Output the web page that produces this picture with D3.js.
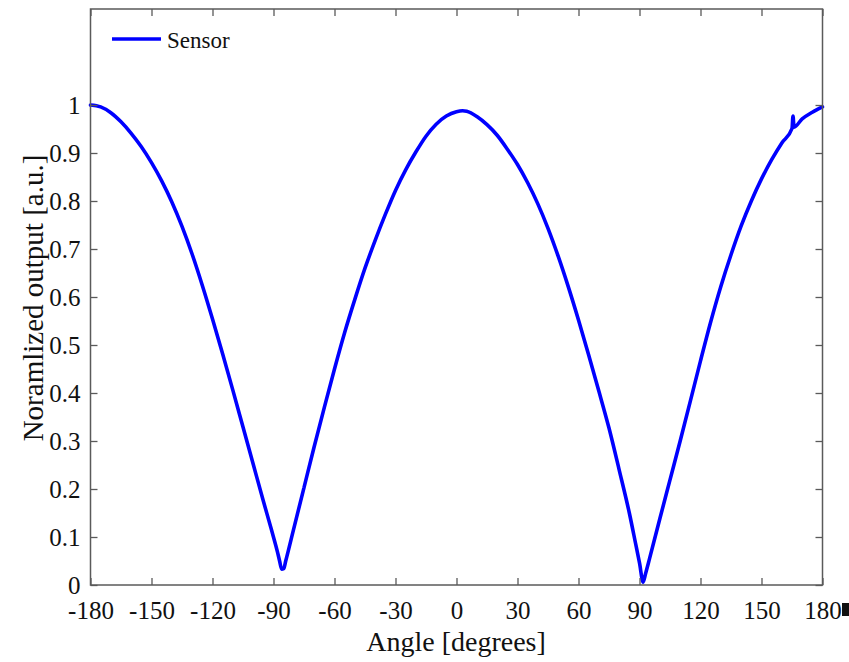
<!DOCTYPE html>
<html>
<head>
<meta charset="utf-8">
<script src="https://cdn.jsdelivr.net/npm/d3@7"></script>
<style>
  html, body { margin: 0; padding: 0; background: #fff; }
  svg { display: block; }
  text { font-family: "Liberation Serif", "Times New Roman", serif; fill: #111; }
</style>
</head>
<body>
<svg id="chart" width="849" height="662"></svg>
<script>
// Angular response of the sensor (degrees vs normalized output)
const angles = [
  -180, -175, -170, -165, -160, -155, -150, -145, -140, -135, -130, -125, -120,
  -115, -110, -105, -100, -95, -91, -88, -87, -86, -85, -84, -80, -75, -70, -65,
  -60, -55, -50, -45, -40, -35, -30, -25, -20, -15, -10, -5, 0, 3, 5, 10, 15, 20,
  25, 30, 35, 40, 45, 50, 55, 60, 65, 70, 75, 80, 85, 88, 90, 91.8, 93, 95, 100,
  105, 110, 115, 120, 125, 130, 135, 140, 145, 150, 155, 160, 165, 165.5, 166,
  170, 175, 180
];
const output = [
  1.000, 0.996, 0.984, 0.965, 0.941, 0.913, 0.880, 0.842, 0.798, 0.747, 0.689, 0.624, 0.554,
  0.481, 0.406, 0.329, 0.252, 0.175, 0.115, 0.068, 0.050, 0.033, 0.034, 0.050, 0.118, 0.203, 0.288, 0.370,
  0.450, 0.526, 0.595, 0.660, 0.718, 0.772, 0.822, 0.865, 0.902, 0.935, 0.960, 0.977, 0.986, 0.988, 0.987, 0.976, 0.959, 0.937,
  0.908, 0.876, 0.838, 0.794, 0.743, 0.685, 0.621, 0.552, 0.479, 0.404, 0.327, 0.240, 0.150, 0.088, 0.046, 0.006, 0.024, 0.056, 0.138,
  0.219, 0.300, 0.383, 0.467, 0.548, 0.622, 0.688, 0.748, 0.800, 0.846, 0.886, 0.921, 0.951, 0.977, 0.954,
  0.971, 0.985, 0.996
];
const xTicks = [-180, -150, -120, -90, -60, -30, 0, 30, 60, 90, 120, 150, 180];
const yTicks = [0, 0.1, 0.2, 0.3, 0.4, 0.5, 0.6, 0.7, 0.8, 0.9, 1];
const yTickLabels = ["0", "0.1", "0.2", "0.3", "0.4", "0.5", "0.6", "0.7", "0.8", "0.9", "1"];
const seriesName = "Sensor";

const svg = d3.select("#chart");
const plot = { left: 90.5, right: 822.5, top: 9, bottom: 585 };
const axisColor = "#5a5a5a";

const x = d3.scaleLinear().domain([-180, 180]).range([plot.left, plot.right]);
const y = d3.scaleLinear().domain([0, 1.2]).range([plot.bottom, plot.top]);

const data = angles.map((a, i) => ({ a, v: output[i] }));

// Curve
svg.append("path")
  .datum(data)
  .attr("fill", "none")
  .attr("stroke", "#0000ff")
  .attr("stroke-width", 3.6)
  .attr("stroke-linejoin", "round")
  .attr("stroke-linecap", "round")
  .attr("d", d3.line().x(d => x(d.a)).y(d => y(d.v)).curve(d3.curveMonotoneX));

// Axes: ticks point inward on all four sides
function styleAxis(g) {
  g.selectAll(".domain").remove();
  g.selectAll(".tick line").attr("stroke", axisColor).attr("stroke-width", 1.3);
  g.selectAll(".tick text")
    .attr("font-family", "\"Liberation Serif\", \"Times New Roman\", serif")
    .attr("font-size", 25)
    .attr("fill", "#111");
}

svg.append("g")
  .attr("transform", `translate(0,${plot.bottom})`)
  .call(d3.axisBottom(x).tickValues(xTicks).tickFormat(d => String(d))
    .tickSizeInner(-7).tickSizeOuter(0).tickPadding(16))
  .call(styleAxis);

svg.append("g")
  .attr("transform", `translate(0,${plot.top})`)
  .call(d3.axisTop(x).tickValues(xTicks).tickFormat("").tickSizeInner(-7).tickSizeOuter(0))
  .call(styleAxis);

svg.append("g")
  .attr("transform", `translate(${plot.left},0)`)
  .call(d3.axisLeft(y).tickValues(yTicks).tickFormat((d, i) => yTickLabels[i])
    .tickSizeInner(-7).tickSizeOuter(0).tickPadding(10))
  .call(styleAxis);

svg.append("g")
  .attr("transform", `translate(${plot.right},0)`)
  .call(d3.axisRight(y).tickValues(yTicks).tickFormat("").tickSizeInner(-7).tickSizeOuter(0))
  .call(styleAxis);

// Frame
svg.append("rect")
  .attr("x", plot.left).attr("y", plot.top)
  .attr("width", plot.right - plot.left).attr("height", plot.bottom - plot.top)
  .attr("fill", "none").attr("stroke", axisColor).attr("stroke-width", 1.5);

// Axis titles
svg.append("text")
  .attr("x", 456).attr("y", 651)
  .attr("text-anchor", "middle").attr("font-size", 28)
  .text("Angle [degrees]");

svg.append("text")
  .attr("transform", `translate(43,298) rotate(-90)`)
  .attr("text-anchor", "middle").attr("font-size", 29)
  .text("Noramlized output [a.u.]");

// Legend
const lg = svg.append("g");
lg.append("line")
  .attr("x1", 112).attr("x2", 161).attr("y1", 39).attr("y2", 39)
  .attr("stroke", "#0000ff").attr("stroke-width", 3.6);
lg.append("text")
  .attr("x", 167).attr("y", 47.5).attr("font-size", 23)
  .text(seriesName);

// small clipped glyph at the lower right corner
svg.append("rect")
  .attr("x", 842).attr("y", 603).attr("width", 7).attr("height", 13).attr("fill", "#111");
</script>
</body>
</html>
